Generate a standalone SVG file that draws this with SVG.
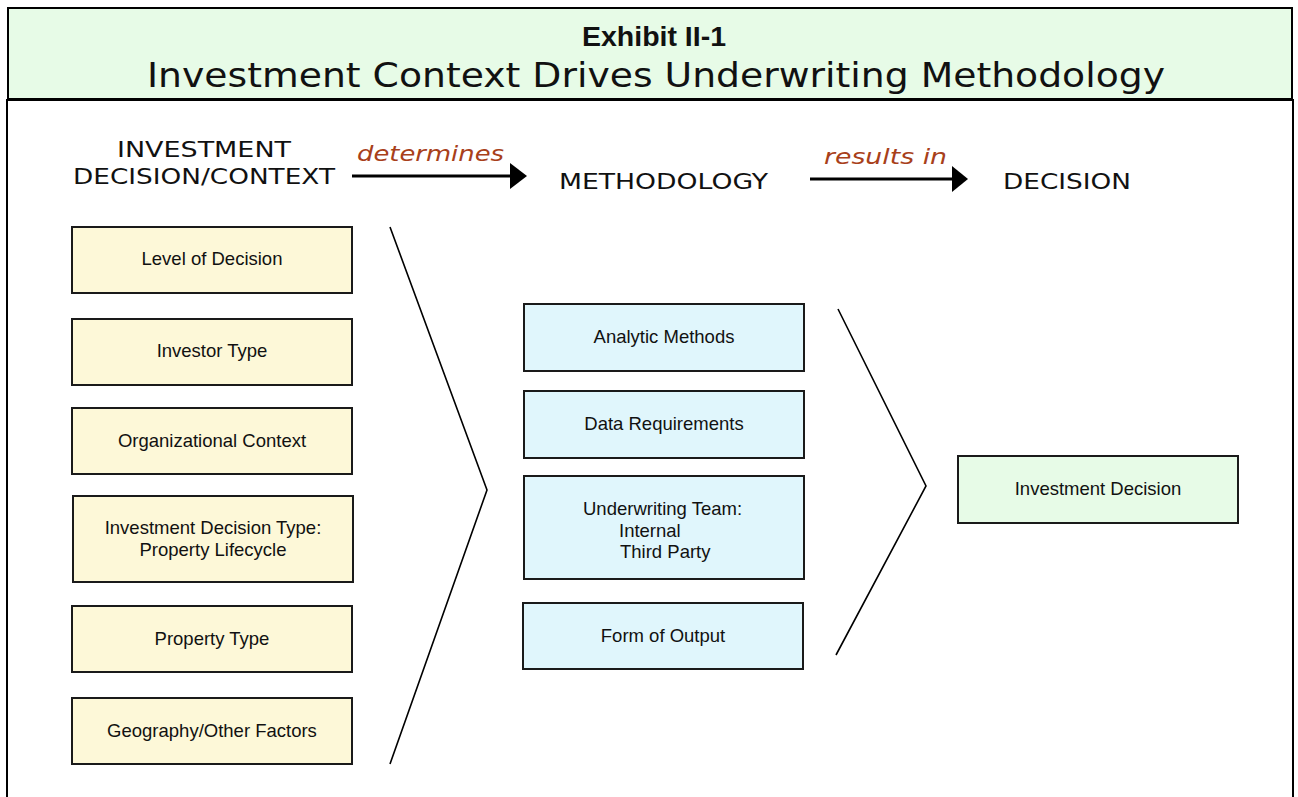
<svg xmlns="http://www.w3.org/2000/svg" width="1298" height="797" viewBox="0 0 1298 797">
<defs>
<style>
.box{stroke:#1a1a1a;stroke-width:2}
.ctx{fill:#fdf8d8}
.meth{fill:#e0f6fc}
.dec{fill:#e7fbe7}
.lbl{font-family:"Liberation Sans",Arial,sans-serif;font-size:18.5px;fill:#111;text-anchor:middle}
.lbs{font-family:"Liberation Sans",Arial,sans-serif;font-size:18.5px;fill:#111;text-anchor:start}
.hdr{font-family:"DejaVu Sans",Verdana,sans-serif;font-size:22px;fill:#111}
.verb{font-family:"DejaVu Sans",Verdana,sans-serif;font-size:22px;font-style:italic;fill:#a8401a}
.chev{fill:none;stroke:#000;stroke-width:1.6}
.arr{stroke:#000;stroke-width:3}
</style>
</defs>
<rect x="0" y="0" width="1298" height="797" fill="#fff"/>
<!-- body frame -->
<path d="M7,797 V100 H1293 V797" fill="none" stroke="#000" stroke-width="2"/>
<!-- header -->
<g id="header">
<rect x="8" y="8" width="1284" height="91" fill="#e7fbe7" stroke="#000" stroke-width="2"/>
<text x="654" y="46" font-family="Liberation Sans,Arial,sans-serif" font-weight="bold" font-size="28" text-anchor="middle" fill="#111" textLength="144" lengthAdjust="spacingAndGlyphs">Exhibit II-1</text>
<text x="656" y="87" font-family="DejaVu Sans,Verdana,sans-serif" font-size="34" text-anchor="middle" fill="#111" textLength="1018" lengthAdjust="spacingAndGlyphs">Investment Context Drives Underwriting Methodology</text>
</g>
<!-- column headers -->
<g id="col-headers">
<text class="hdr" x="117" y="157" textLength="174" lengthAdjust="spacingAndGlyphs">INVESTMENT</text>
<text class="hdr" x="73" y="184" textLength="262" lengthAdjust="spacingAndGlyphs">DECISION/CONTEXT</text>
<text class="hdr" x="559" y="189" textLength="209" lengthAdjust="spacingAndGlyphs">METHODOLOGY</text>
<text class="hdr" x="1003" y="189" textLength="128" lengthAdjust="spacingAndGlyphs">DECISION</text>
</g>
<!-- connectors -->
<g id="connectors">
<line class="arr" x1="352" y1="176" x2="512" y2="176"/>
<polygon points="510,163 527,176 510,189" fill="#000"/>
<text class="verb" x="357" y="161" textLength="147" lengthAdjust="spacingAndGlyphs">determines</text>
<line class="arr" x1="810" y1="179" x2="954" y2="179"/>
<polygon points="952,166 968,179 952,192" fill="#000"/>
<text class="verb" x="824" y="164" textLength="123" lengthAdjust="spacingAndGlyphs">results in</text>
<polyline class="chev" points="390,227 487,490 390,764"/>
<polyline class="chev" points="838,309 926,486 836,655"/>
</g>
<!-- context boxes -->
<g id="level-of-decision"><rect class="box ctx" x="72" y="227" width="280" height="66"/><text class="lbl" x="212" y="265">Level of Decision</text></g>
<g id="investor-type"><rect class="box ctx" x="72" y="319" width="280" height="66"/><text class="lbl" x="212" y="357">Investor Type</text></g>
<g id="organizational-context"><rect class="box ctx" x="72" y="408" width="280" height="66"/><text class="lbl" x="212" y="447">Organizational Context</text></g>
<g id="investment-decision-type"><rect class="box ctx" x="73" y="496" width="280" height="86"/><text class="lbl" x="213" y="534">Investment Decision Type:</text><text class="lbl" x="213" y="556">Property Lifecycle</text></g>
<g id="property-type"><rect class="box ctx" x="72" y="606" width="280" height="66"/><text class="lbl" x="212" y="645">Property Type</text></g>
<g id="geography"><rect class="box ctx" x="72" y="698" width="280" height="66"/><text class="lbl" x="212" y="737">Geography/Other Factors</text></g>
<!-- methodology boxes -->
<g id="analytic-methods"><rect class="box meth" x="524" y="304" width="280" height="67"/><text class="lbl" x="664" y="343">Analytic Methods</text></g>
<g id="data-requirements"><rect class="box meth" x="524" y="391" width="280" height="67"/><text class="lbl" x="664" y="430">Data Requirements</text></g>
<g id="underwriting-team"><rect class="box meth" x="524" y="476" width="280" height="103"/><text class="lbs" x="583" y="515">Underwriting Team:</text><text class="lbs" x="619" y="537">Internal</text><text class="lbs" x="620" y="558">Third Party</text></g>
<g id="form-of-output"><rect class="box meth" x="523" y="603" width="280" height="66"/><text class="lbl" x="663" y="642">Form of Output</text></g>
<!-- decision -->
<g id="investment-decision"><rect class="box dec" x="958" y="456" width="280" height="67"/><text class="lbl" x="1098" y="495">Investment Decision</text></g>
</svg>
